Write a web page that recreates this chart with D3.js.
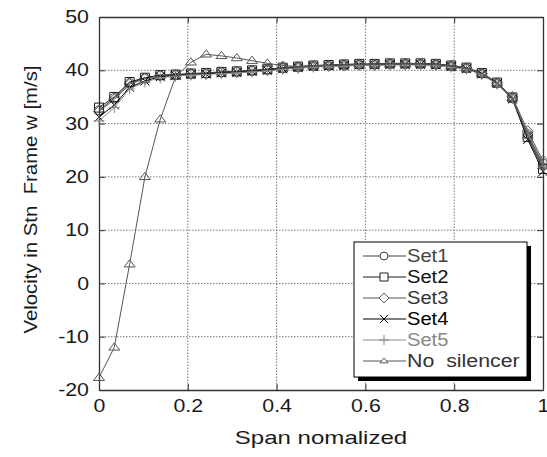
<!DOCTYPE html>
<html>
<head>
<meta charset="utf-8">
<script src="https://cdn.jsdelivr.net/npm/d3@7/dist/d3.min.js"></script>
<style>
  body { margin: 0; background: #fff; }
  text { font-family: "Liberation Sans", Arial, sans-serif; }
</style>
</head>
<body>
<svg id="chart"></svg>
<script>
const width = 547;
const height = 457;

// span positions: 30 stations from 0 to 1
const span = d3.range(30).map(i => i / 29);

const set1 = [32.5, 34.8, 37.6, 38.5, 39.0, 39.1, 39.3, 39.4, 39.6, 39.7, 39.9, 40.1, 40.4, 40.6, 40.8, 40.9, 41.0, 41.1, 41.1, 41.2, 41.2, 41.2, 41.1, 40.8, 40.4, 39.4, 37.6, 34.8, 28.0, 22.5];
const set2 = [33.0, 35.0, 37.8, 38.6, 39.1, 39.2, 39.4, 39.5, 39.7, 39.8, 40.0, 40.2, 40.5, 40.7, 40.9, 41.0, 41.1, 41.2, 41.2, 41.3, 41.3, 41.3, 41.2, 40.9, 40.5, 39.5, 37.7, 34.9, 27.5, 21.5];
const set3 = [32.3, 34.5, 37.4, 38.4, 39.0, 39.1, 39.3, 39.4, 39.6, 39.7, 39.9, 40.1, 40.4, 40.6, 40.8, 40.9, 41.0, 41.1, 41.1, 41.2, 41.2, 41.2, 41.1, 40.8, 40.4, 39.4, 37.6, 35.0, 28.6, 23.0];
const set4 = [31.2, 33.5, 36.8, 38.0, 38.8, 39.0, 39.2, 39.3, 39.5, 39.6, 39.8, 40.0, 40.3, 40.5, 40.7, 40.8, 40.9, 41.0, 41.0, 41.1, 41.1, 41.1, 41.0, 40.7, 40.3, 39.3, 37.5, 34.6, 27.0, 21.0];
const set5 = [30.5, 33.0, 36.5, 37.8, 38.6, 38.9, 39.1, 39.2, 39.4, 39.5, 39.7, 39.9, 40.2, 40.4, 40.6, 40.7, 40.8, 40.9, 40.9, 41.0, 41.0, 41.0, 40.9, 40.6, 40.2, 39.2, 37.4, 34.7, 28.2, 22.0];
const noSilencer = [-17.7, -12.0, 3.6, 20.0, 30.8, 38.8, 41.5, 43.0, 42.7, 42.3, 41.8, 41.3, 40.9, 40.7, 40.8, 40.9, 41.0, 41.1, 41.1, 41.2, 41.2, 41.2, 41.1, 40.8, 40.4, 39.4, 37.6, 34.8, 27.8, 22.0];

const seriesNames = ["Set1", "Set2", "Set3", "Set4", "Set5", "No  silencer"];
const seriesValues = [set1, set2, set3, set4, set5, noSilencer];
const seriesMarkers = ["circle", "square", "diamond", "cross", "plus", "triangle"];
const seriesColors = ["#444", "#1a1a1a", "#555", "#000", "#888", "#555"];
const textColors = ["#444", "#111", "#333", "#000", "#888", "#333"];

const xTicks = [0, 0.2, 0.4, 0.6, 0.8, 1];
const yTicks = [-20, -10, 0, 10, 20, 30, 40, 50];

const margin = { top: 17, right: 4, bottom: 67, left: 99 };

const svg = d3.select("#chart")
  .attr("width", width)
  .attr("height", height);

svg.append("rect").attr("width", width).attr("height", height).attr("fill", "#fff");

const x = d3.scaleLinear()
  .domain([0, 1])
  .range([margin.left, width - margin.right]);

const y = d3.scaleLinear()
  .domain([-20, 50])
  .range([height - margin.bottom, margin.top]);

// the original lettering is wider than Liberation Sans, stretch it a bit
function widen(sel, f) {
  sel.each(function () {
    const len = this.getComputedTextLength();
    d3.select(this)
      .attr("textLength", len * f)
      .attr("lengthAdjust", "spacingAndGlyphs");
  });
}

// grid
const grid = svg.append("g")
  .attr("stroke", "#777")
  .attr("stroke-width", 1)
  .attr("stroke-dasharray", "1.5,1.5");

grid.selectAll(".gx")
  .data(xTicks.slice(1, -1))
  .join("line")
  .attr("x1", d => x(d)).attr("x2", d => x(d))
  .attr("y1", y(-20)).attr("y2", y(50));

grid.selectAll(".gy")
  .data(yTicks.slice(1, -1))
  .join("line")
  .attr("x1", x(0)).attr("x2", x(1))
  .attr("y1", d => y(d)).attr("y2", d => y(d));

// axes (ticks inward)
const tickLen = 6;
svg.append("g")
  .attr("transform", `translate(0,${y(-20)})`)
  .call(d3.axisBottom(x).tickValues(xTicks).tickSizeInner(-tickLen).tickSizeOuter(0).tickPadding(10).tickFormat(d => String(d)));

svg.append("g")
  .attr("transform", `translate(${x(0)},0)`)
  .call(d3.axisLeft(y).tickValues(yTicks).tickSizeInner(-tickLen).tickSizeOuter(0).tickPadding(10).tickFormat(d => String(d)));

svg.append("g")
  .attr("transform", `translate(${x(1)},0)`)
  .call(d3.axisRight(y).tickValues(yTicks).tickSizeInner(-tickLen).tickSizeOuter(0).tickFormat(""));

svg.append("g")
  .attr("transform", `translate(0,${y(50)})`)
  .call(d3.axisTop(x).tickValues(xTicks).tickSizeInner(-tickLen).tickSizeOuter(0).tickFormat(""));

svg.selectAll(".domain").attr("stroke", "#333").attr("stroke-width", 1.3);
svg.selectAll(".tick line").attr("stroke", "#333");
svg.selectAll(".tick text")
  .attr("font-size", 17.5)
  .attr("fill", "#1a1a1a")
  .attr("font-family", "'Liberation Sans', Arial, sans-serif")
  .call(widen, 1.22);

// axis titles
svg.append("text")
  .attr("x", (x(0) + x(1)) / 2)
  .attr("y", 444)
  .attr("text-anchor", "middle")
  .attr("font-size", 18.5)
  .attr("fill", "#1a1a1a")
  .text("Span nomalized")
  .call(widen, 1.3);

svg.append("text")
  .attr("transform", `translate(37,${(y(-20) + y(50)) / 2 - 4}) rotate(-90)`)
  .attr("text-anchor", "middle")
  .attr("font-size", 18.5)
  .attr("fill", "#1a1a1a")
  .style("white-space", "pre")
  .text("Velocity in Stn  Frame w [m/s]")
  .call(widen, 1.1);

// marker shapes
function markerPath(type, s) {
  switch (type) {
    case "circle":
      return `M${-s},0A${s},${s} 0 1,0 ${s},0A${s},${s} 0 1,0 ${-s},0Z`;
    case "square":
      return `M${-s},${-s}H${s}V${s}H${-s}Z`;
    case "diamond":
      return `M0,${-s - 1}L${s + 1},0L0,${s + 1}L${-s - 1},0Z`;
    case "cross":
      return `M${-s},${-s}L${s},${s}M${-s},${s}L${s},${-s}`;
    case "plus":
      return `M${-s - 1},0H${s + 1}M0,${-s - 1}V${s + 1}`;
    case "triangle":
      return `M0,${-s}L${s + 1},${s * 0.6}H${-s - 1}Z`;
  }
}

const line = d3.line()
  .x((d, i) => x(span[i]))
  .y(d => y(d));

const plot = svg.append("g");

seriesValues.forEach((vals, k) => {
  const g = plot.append("g");
  g.append("path")
    .datum(vals)
    .attr("fill", "none")
    .attr("stroke", seriesColors[k])
    .attr("stroke-width", 1)
    .attr("d", line);
  g.selectAll("path.m")
    .data(vals)
    .join("path")
    .attr("class", "m")
    .attr("transform", (d, i) => `translate(${x(span[i])},${y(d)})`)
    .attr("d", markerPath(seriesMarkers[k], 4.5))
    .attr("fill", "none")
    .attr("stroke", seriesColors[k])
    .attr("stroke-width", 1);
});

// legend
const legend = svg.append("g");
const lx = 354, ly = 242, lw = 173, lh = 135;
legend.append("rect")
  .attr("x", lx + 4).attr("y", ly + 4)
  .attr("width", lw).attr("height", lh)
  .attr("fill", "#000");
legend.append("rect")
  .attr("x", lx).attr("y", ly)
  .attr("width", lw).attr("height", lh)
  .attr("fill", "#fff")
  .attr("stroke", "#000")
  .attr("stroke-width", 1);

const rowY = d3.scaleLinear().domain([0, 5]).range([256, 361]);

seriesNames.forEach((name, k) => {
  const cy = rowY(k);
  legend.append("line")
    .attr("x1", 363).attr("x2", 406)
    .attr("y1", cy).attr("y2", cy)
    .attr("stroke", seriesColors[k]);
  legend.append("path")
    .attr("transform", `translate(384,${cy})`)
    .attr("d", markerPath(seriesMarkers[k], seriesMarkers[k] === "triangle" ? 3 : 4))
    .attr("fill", "#fff")
    .attr("stroke", seriesColors[k]);
  legend.append("text")
    .attr("x", 407)
    .attr("y", cy + 6)
    .attr("font-size", 17.5)
    .attr("fill", textColors[k])
    .style("white-space", "pre")
    .text(name)
    .call(widen, k === 5 ? 1.22 : 1.15);
});
</script>
</body>
</html>
